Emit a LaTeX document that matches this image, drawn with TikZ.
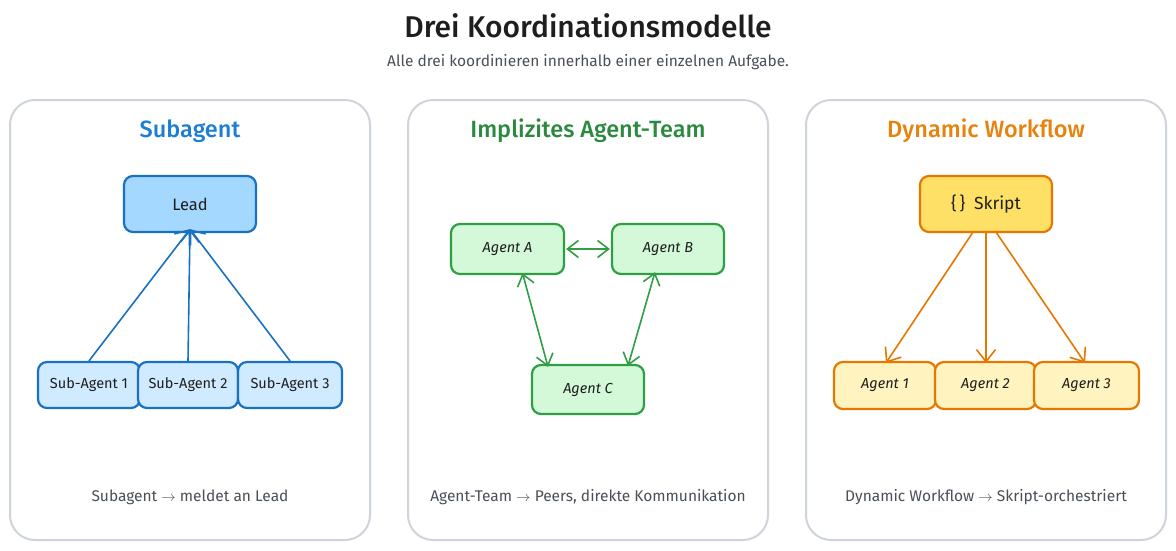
\documentclass[tikz,border=0pt]{standalone}
\usepackage{fontspec}
\setmainfont{Fira Sans}
\newfontfamily\mediumfont{Fira Sans Medium}
\usetikzlibrary{positioning,arrows.meta}
\definecolor{ink}       {HTML}{1E1E1E}
\definecolor{softink}   {HTML}{495057}
\definecolor{frame}     {HTML}{CED4DA}
\definecolor{bluetext}  {HTML}{1C7ED6}
\definecolor{bluedraw}  {HTML}{1971C2}
\definecolor{bluefill}  {HTML}{A5D8FF}
\definecolor{bluelite}  {HTML}{D0EBFF}
\definecolor{greentext} {HTML}{2B8A3E}
\definecolor{greendraw} {HTML}{2F9E44}
\definecolor{greenfill} {HTML}{D3F9D8}
\definecolor{orangetext}{HTML}{E8820C}
\definecolor{orangedraw}{HTML}{E67700}
\definecolor{orangefill}{HTML}{FFE066}
\definecolor{orangelite}{HTML}{FFF3BF}
\tikzset{
  % --- nodes
  mod/.style    = {rounded corners=9pt, line width=2.2pt, align=center, text=ink,
                   font=\fontsize{14.5}{17}\selectfont},
  leadbox/.style= {mod, draw=bluedraw, fill=bluefill, minimum width=132pt, minimum height=56pt,
                   font=\fontsize{16.5}{19}\selectfont},
  subbox/.style = {mod, draw=bluedraw, fill=bluelite, minimum height=46pt},
  peer/.style   = {mod, draw=greendraw, fill=greenfill, minimum width=112pt, minimum height=50pt},
  skriptbox/.style={mod, draw=orangedraw, fill=orangefill, minimum width=132pt, minimum height=56pt,
                   font=\fontsize{17.5}{20}\selectfont},
  wbox/.style   = {mod, draw=orangedraw, fill=orangelite, minimum height=47pt},
  panel/.style  = {rounded corners=25pt, draw=frame, line width=2pt, fill=white,
                   minimum width=360pt, minimum height=440pt},
  ptitle/.style = {font=\mediumfont\fontsize{23.5}{27}\selectfont},
  foot/.style   = {font=\fontsize{15.5}{18}\selectfont, text=softink},
  % --- edges
  e/.style      = {line width=1.6pt, -{Straight Barb[length=12pt,width=19pt]}},
  ebi/.style    = {line width=1.6pt, {Straight Barb[length=11pt,width=17pt]}-{Straight Barb[length=11pt,width=17pt]}},
}
\begin{document}
\begin{tikzpicture}[x=1pt,y=-1pt]
  \fill[white] (0,0) rectangle (1176,550);

  \node[font=\mediumfont\fontsize{30}{34}\selectfont, text=ink] (title) at (588,26) {Drei Koordinationsmodelle};
  \node[font=\fontsize{15.5}{18}\selectfont, text=softink] (subtitle) at (588,62)
    {Alle drei koordinieren innerhalb einer einzelnen Aufgabe.};

  \node[panel] (p1) at (190,320) {};
  \node[panel] (p2) at (588,320) {};
  \node[panel] (p3) at (986,320) {};

  \node[ptitle, text=bluetext]   (t1) at (190,131) {Subagent};
  \node[ptitle, text=greentext]  (t2) at (588,131) {Implizites Agent-Team};
  \node[ptitle, text=orangetext] (t3) at (986,131) {Dynamic Workflow};

  % --- Subagent
  \node[leadbox] (lead) at (190,204) {Lead};
  \node[subbox, minimum width=102pt] (s1) at (89,385)  {Sub-Agent 1};
  \node[subbox, minimum width=100pt] (s2) at (188,385) {Sub-Agent 2};
  \node[subbox, minimum width=104pt] (s3) at (290,385) {Sub-Agent 3};
  \foreach \i in {1,2,3}
    \draw[e, draw=bluedraw] (s\i.north) -- ([yshift=4pt]lead.south);

  % --- Agent-Team
  \node[peer, minimum width=113pt] (pa) at (507.5,249) {\itshape Agent A};
  \node[peer] (pb) at (668,249) {\itshape Agent B};
  \node[peer, minimum height=49pt] (pc) at (588,389.5) {\itshape Agent C};
  \draw[ebi, draw=greendraw] ([xshift=1pt]pa.east) -- ([xshift=-1pt]pb.west);
  \draw[ebi, draw=greendraw] ([xshift=15pt,yshift=2pt]pa.south) -- ([xshift=-40pt,yshift=-3pt]pc.north);
  \draw[ebi, draw=greendraw] ([xshift=-13pt,yshift=3pt]pb.south) -- ([xshift=40pt,yshift=-2pt]pc.north);

  % --- Dynamic Workflow
  \node[skriptbox] (skr) at (986,204) {\{\,\}\enspace Skript};
  \node[wbox, minimum width=102pt] (w1) at (885,385.5)    {\itshape Agent 1};
  \node[wbox, minimum width=101pt] (w2) at (985.5,385.5)  {\itshape Agent 2};
  \node[wbox, minimum width=105pt] (w3) at (1086.5,385.5) {\itshape Agent 3};
  \draw[e, draw=orangedraw] ([xshift=-13pt,yshift=1pt]skr.south) -- ([xshift=1pt,yshift=-2pt]w1.north);
  \draw[e, draw=orangedraw] ([yshift=1pt]skr.south) -- ([xshift=0.5pt,yshift=-2pt]w2.north);
  \draw[e, draw=orangedraw] ([xshift=10pt,yshift=1pt]skr.south) -- ([xshift=-1.5pt,yshift=-2pt]w3.north);

  % --- footers
  \node[foot] (f1) at (190,497) {Subagent $\rightarrow$ meldet an Lead};
  \node[foot] (f2) at (588,497) {Agent-Team $\rightarrow$ Peers, direkte Kommunikation};
  \node[foot] (f3) at (986,497) {Dynamic Workflow $\rightarrow$ Skript-orchestriert};
\end{tikzpicture}
\end{document}
